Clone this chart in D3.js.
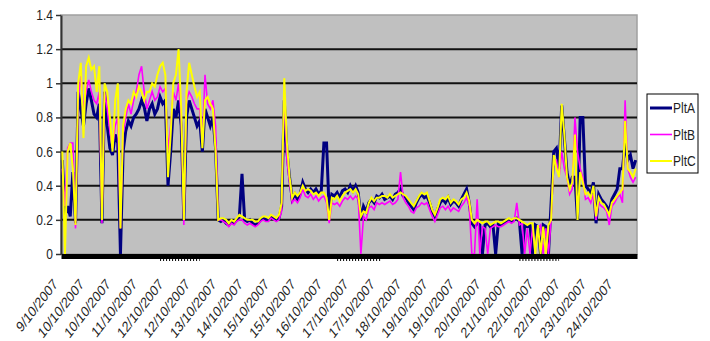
<!DOCTYPE html>
<html>
<head>
<meta charset="utf-8">
<script src="https://cdn.jsdelivr.net/npm/d3@7"></script>
<style>
  body { margin: 0; background: #fff; }
  svg { display: block; }
  text { font-family: "Liberation Sans", Arial, sans-serif; }
</style>
</head>
<body>
<svg id="chart" width="710" height="341"></svg>
<script>
// Hourly plant readings, 9 - 24 October 2007
const pltA = [
  0.55,0.22,0.28,0.22,0.48,0.18,0.95,0.85,0.75,0.88,
  0.97,0.9,0.82,0.8,0.88,0.18,0.95,0.75,0.62,0.58,
  0.7,0.65,0.0,0.6,0.72,0.78,0.75,0.8,0.82,0.85,
  0.9,0.86,0.78,0.85,0.88,0.82,0.85,0.92,0.88,0.9,
  0.4,0.6,0.85,0.8,0.9,0.75,0.2,0.8,0.9,0.85,
  0.8,0.75,0.78,0.6,0.85,0.8,0.75,0.8,0.62,0.2,
  0.19,0.2,0.18,0.17,0.19,0.18,0.2,0.22,0.47,0.2,
  0.19,0.2,0.18,0.17,0.18,0.2,0.21,0.2,0.2,0.22,
  0.21,0.2,0.21,0.28,0.9,0.6,0.45,0.32,0.35,0.32,
  0.35,0.42,0.38,0.36,0.38,0.36,0.38,0.35,0.37,0.65,
  0.65,0.25,0.35,0.34,0.36,0.33,0.37,0.38,0.36,0.4,
  0.37,0.4,0.36,0.2,0.28,0.25,0.3,0.32,0.3,0.34,
  0.33,0.35,0.32,0.33,0.34,0.32,0.35,0.36,0.38,0.34,
  0.33,0.3,0.28,0.26,0.3,0.33,0.35,0.33,0.34,0.3,
  0.25,0.22,0.26,0.3,0.32,0.3,0.33,0.29,0.31,0.3,
  0.28,0.32,0.35,0.38,0.3,0.18,0.16,0.18,0.17,0.0,
  0.17,0.18,0.16,0.17,0.0,0.18,0.17,0.18,0.19,0.2,
  0.19,0.2,0.21,0.19,0.0,0.17,0.16,0.17,0.0,0.17,
  0.16,0.0,0.17,0.16,0.0,0.3,0.6,0.62,0.5,0.87,
  0.68,0.48,0.4,0.45,0.45,0.2,0.8,0.8,0.4,0.38,
  0.35,0.42,0.18,0.35,0.32,0.3,0.28,0.25,0.32,0.35,
  0.38,0.5,0.5,0.65,0.55,0.58,0.5,0.55
];
const pltB = [
  0.5,0.28,0.62,0.65,0.65,0.15,0.9,1.05,0.85,0.95,
  1.02,0.95,0.9,0.88,0.95,0.18,0.95,0.85,0.72,0.62,
  0.75,0.8,0.15,0.7,0.8,0.88,0.82,0.9,0.95,1.05,
  1.1,0.95,0.85,0.9,0.95,0.9,0.92,0.98,0.95,0.97,
  0.6,0.75,0.95,0.9,1.0,0.8,0.17,0.9,0.95,0.92,
  0.88,0.85,0.85,0.65,1.05,0.88,0.85,0.9,0.75,0.2,
  0.2,0.19,0.18,0.16,0.18,0.17,0.19,0.2,0.2,0.18,
  0.17,0.18,0.17,0.16,0.17,0.19,0.2,0.19,0.19,0.21,
  0.2,0.19,0.2,0.25,0.95,0.55,0.42,0.3,0.32,0.3,
  0.33,0.38,0.34,0.33,0.35,0.32,0.34,0.31,0.33,0.34,
  0.3,0.18,0.3,0.29,0.3,0.28,0.31,0.33,0.32,0.34,
  0.32,0.34,0.32,0.0,0.22,0.2,0.27,0.28,0.26,0.3,
  0.29,0.3,0.29,0.3,0.31,0.29,0.3,0.32,0.48,0.33,
  0.3,0.28,0.25,0.24,0.27,0.28,0.3,0.29,0.3,0.26,
  0.22,0.19,0.23,0.27,0.28,0.26,0.28,0.25,0.27,0.26,
  0.25,0.28,0.3,0.33,0.28,0.0,0.0,0.32,0.0,0.16,
  0.15,0.0,0.15,0.16,0.17,0.16,0.16,0.17,0.18,0.19,
  0.18,0.19,0.3,0.17,0.18,0.0,0.15,0.0,0.16,0.0,
  0.15,0.17,0.0,0.15,0.0,0.2,0.55,0.55,0.45,0.6,
  0.5,0.45,0.35,0.38,0.8,0.6,0.5,0.45,0.32,0.33,
  0.3,0.35,0.2,0.3,0.28,0.27,0.25,0.17,0.28,0.3,
  0.33,0.35,0.3,0.9,0.5,0.45,0.42,0.45
];
const pltC = [
  0.6,0.0,0.6,0.65,0.5,0.17,1.0,1.12,0.68,1.1,
  1.15,1.08,1.1,0.95,1.1,0.2,1.0,0.95,0.8,0.6,
  0.9,1.0,0.15,0.75,0.85,0.9,0.88,0.95,0.92,0.98,
  0.95,0.9,0.95,0.95,1.0,0.98,1.05,1.1,1.12,1.05,
  0.45,0.7,1.0,1.05,1.2,0.85,0.2,0.95,1.12,1.05,
  0.98,0.92,0.95,0.62,0.9,0.92,0.88,0.85,0.6,0.2,
  0.21,0.21,0.2,0.18,0.2,0.19,0.21,0.23,0.22,0.21,
  0.2,0.2,0.2,0.19,0.19,0.21,0.22,0.22,0.21,0.23,
  0.22,0.21,0.23,0.3,1.03,0.65,0.45,0.33,0.36,0.34,
  0.36,0.4,0.37,0.38,0.37,0.35,0.36,0.34,0.36,0.36,
  0.33,0.2,0.33,0.32,0.34,0.31,0.34,0.36,0.37,0.38,
  0.36,0.38,0.35,0.22,0.25,0.24,0.3,0.33,0.31,0.33,
  0.33,0.34,0.34,0.33,0.35,0.33,0.34,0.35,0.36,0.35,
  0.34,0.32,0.3,0.28,0.31,0.34,0.36,0.35,0.36,0.31,
  0.26,0.23,0.27,0.32,0.33,0.32,0.34,0.3,0.32,0.31,
  0.29,0.32,0.33,0.36,0.31,0.2,0.18,0.2,0.19,0.18,
  0.19,0.19,0.17,0.18,0.19,0.19,0.18,0.19,0.2,0.21,
  0.2,0.21,0.21,0.2,0.19,0.18,0.17,0.18,0.18,0.0,
  0.17,0.0,0.16,0.0,0.17,0.2,0.58,0.5,0.45,0.88,
  0.7,0.45,0.38,0.42,0.7,0.2,0.48,0.42,0.35,0.36,
  0.33,0.4,0.22,0.33,0.3,0.29,0.26,0.23,0.3,0.32,
  0.34,0.36,0.38,0.78,0.5,0.48,0.45,0.5
];

const dateLabels = [
  "9/10/2007","10/10/2007","10/10/2007","11/10/2007","12/10/2007","12/10/2007",
  "13/10/2007","14/10/2007","15/10/2007","15/10/2007","16/10/2007","17/10/2007",
  "17/10/2007","18/10/2007","19/10/2007","19/10/2007","20/10/2007","21/10/2007",
  "22/10/2007","22/10/2007","23/10/2007","24/10/2007"
];
const labelStep = 10;              // one date label every 10 readings
const yTicks = [0, 0.2, 0.4, 0.6, 0.8, 1, 1.2, 1.4];
const seriesNames = ["PltA", "PltB", "PltC"];
const seriesColors = ["#000080", "#ff00ff", "#ffff00"];
const seriesWidths = [3, 1.6, 2];

const series = [pltA, pltB, pltC];
const n = pltA.length;

const plot = { left: 61, right: 637, top: 15, bottom: 254 };
const textColor = "#1e1e1e";
const stretch = 1.25;              // text is drawn slightly tall

const svg = d3.select("#chart");

const x = d3.scaleBand().domain(d3.range(n)).range([plot.left, plot.right]);
const xc = i => x(i) + x.bandwidth() / 2;
const y = d3.scaleLinear().domain([0, 1.4]).range([plot.bottom, plot.top]);

// plot background
svg.append("rect")
  .attr("x", plot.left).attr("y", plot.top)
  .attr("width", plot.right - plot.left).attr("height", plot.bottom - plot.top)
  .attr("fill", "#c0c0c0")
  .attr("stroke", "#a0a0a0").attr("stroke-width", 1.5);

// horizontal gridlines
svg.append("g")
  .selectAll("line")
  .data(yTicks.filter(v => v > 0 && v < 1.4))
  .join("line")
  .attr("x1", plot.left).attr("x2", plot.right)
  .attr("y1", d => y(d)).attr("y2", d => y(d))
  .attr("stroke", "#111").attr("stroke-width", 2);

// value axis
const yAxis = svg.append("g")
  .attr("transform", `translate(${plot.left},0)`)
  .call(d3.axisLeft(y).tickValues(yTicks).tickFormat(d3.format("~g")).tickSize(5).tickSizeOuter(0));
yAxis.select(".domain").attr("stroke", "#333").attr("stroke-width", 2);
yAxis.selectAll(".tick line").attr("stroke", "#333").attr("stroke-width", 1.5);
yAxis.selectAll(".tick text")
  .attr("font-size", 12).attr("fill", textColor)
  .attr("x", -8).attr("dy", "0.3em")
  .attr("transform", `scale(1,${stretch})`);

// data lines
const line = d3.line().x((d, i) => xc(i)).y(d => y(d));
svg.append("g")
  .selectAll("path")
  .data(series)
  .join("path")
  .attr("d", line)
  .attr("fill", "none")
  .attr("stroke", (d, i) => seriesColors[i])
  .attr("stroke-width", (d, i) => seriesWidths[i]);

// category axis
const xAxis = svg.append("g")
  .attr("transform", `translate(0,${plot.bottom + 2})`)
  .call(d3.axisBottom(x)
    .tickValues(d3.range(0, n, labelStep))
    .tickFormat(i => dateLabels[i / labelStep])
    .tickSize(0).tickSizeOuter(0));
xAxis.select(".domain").attr("stroke", "#000").attr("stroke-width", 5);
xAxis.selectAll(".tick text")
  .attr("font-size", 12).attr("fill", textColor)
  .attr("text-anchor", "end")
  .attr("x", 0).attr("y", 0).attr("dy", 0)
  .attr("transform", `translate(-4,29) scale(1,${stretch}) rotate(-46)`);

// dotted minor marks under the axis band
const dotRuns = [[37, 52], [104, 121], [173, 188]];
svg.append("g")
  .selectAll("line")
  .data(dotRuns)
  .join("line")
  .attr("x1", d => xc(d[0])).attr("x2", d => xc(d[1]))
  .attr("y1", plot.bottom + 6).attr("y2", plot.bottom + 6)
  .attr("stroke", "#000").attr("stroke-width", 2)
  .attr("stroke-dasharray", "1,2");

// legend
const legend = svg.append("g").attr("transform", "translate(647,94)");
legend.append("rect")
  .attr("width", 51).attr("height", 79)
  .attr("fill", "#fff").attr("stroke", "#000").attr("stroke-width", 1);
const entry = legend.selectAll("g.entry")
  .data(seriesNames)
  .join("g").attr("class", "entry")
  .attr("transform", (d, i) => `translate(0,${14 + i * 26.5})`);
entry.append("line")
  .attr("x1", 3).attr("x2", 25)
  .attr("stroke", (d, i) => seriesColors[i])
  .attr("stroke-width", (d, i) => seriesWidths[i]);
entry.append("text")
  .attr("x", 26).attr("y", 4)
  .attr("font-size", 12).attr("fill", textColor)
  .attr("transform", `scale(1,${stretch})`)
  .text(d => d);
</script>
</body>
</html>
